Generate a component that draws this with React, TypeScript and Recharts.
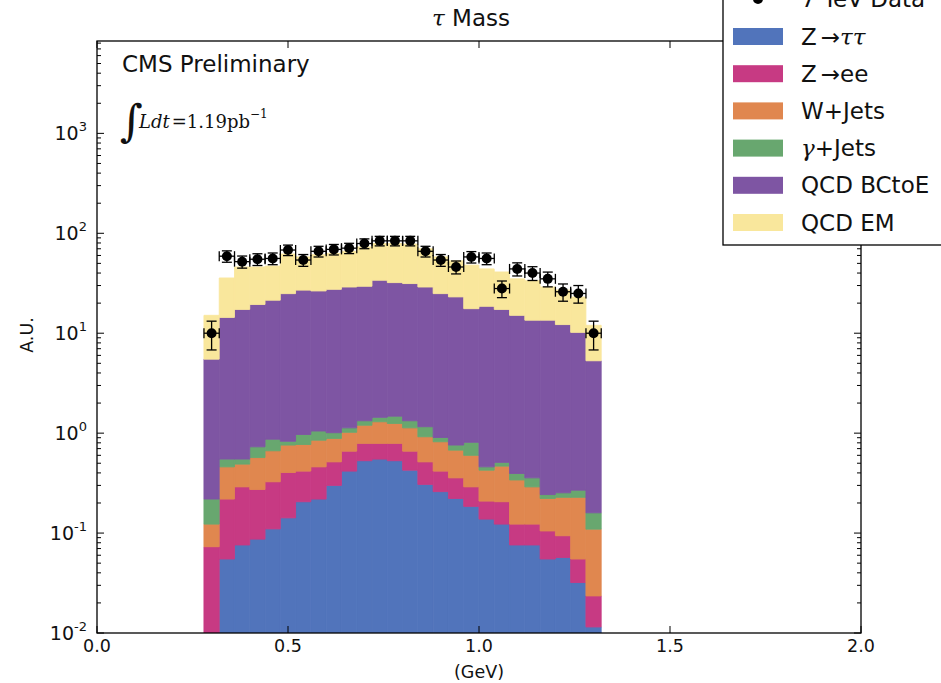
import { Bar, ComposedChart, ErrorBar, Scatter, XAxis, YAxis } from "recharts"

// bin centres (GeV), 0.04 wide bins from 0.28 to 1.32
const binCenters = [
  0.3, 0.34, 0.38, 0.42, 0.46, 0.5, 0.54, 0.58, 0.62, 0.66, 0.7, 0.74, 0.78,
  0.82, 0.86, 0.9, 0.94, 0.98, 1.02, 1.06, 1.1, 1.14, 1.18, 1.22, 1.26, 1.3,
]

// per-process contributions, stacked bottom to top
const zTauTau = [
  0, 0.055, 0.076, 0.087, 0.11, 0.142, 0.206, 0.219, 0.3, 0.417, 0.53, 0.55, 0.53,
  0.426, 0.307, 0.26, 0.222, 0.185, 0.138, 0.123, 0.076, 0.076, 0.055, 0.057, 0.032, 0.0115,
]
const zEE = [
  0.073, 0.164, 0.214, 0.186, 0.216, 0.262, 0.211, 0.241, 0.216, 0.243, 0.26, 0.24, 0.26,
  0.234, 0.209, 0.157, 0.135, 0.105, 0.071, 0.083, 0.047, 0.047, 0.05, 0.037, 0.023, 0.012,
]
const wJets = [
  0.05, 0.241, 0.2, 0.297, 0.34, 0.356, 0.353, 0.39, 0.369, 0.36, 0.41, 0.51, 0.46,
  0.47, 0.404, 0.403, 0.319, 0.31, 0.217, 0.262, 0.217, 0.167, 0.117, 0.134, 0.173, 0.086,
]
const gammaJets = [
  0.096, 0.09, 0.06, 0.16, 0.204, 0.07, 0.2, 0.2, 0.125, 0.11, 0.13, 0.14, 0.23,
  0.2, 0.24, 0.085, 0.084, 0.21, 0.034, 0.042, 0.055, 0.067, 0.021, 0.025, 0.041, 0.05,
]
const qcdBCtoE = [
  5.28, 13.85, 16.75, 18.67, 20.53, 24.07, 26.03, 25.45, 26.49, 27.87, 28.17, 32.46, 30.62,
  30.07, 27.84, 24.0, 22.34, 16.79, 18.14, 16.79, 14.7, 13.14, 13.26, 11.95, 9.93, 5.14,
]
const qcdEM = [
  9.6, 21.3, 28.7, 26.6, 25.6, 37.1, 31, 34.5, 35.5, 37, 43.5, 45.1, 46.9,
  46.6, 41, 33.1, 29.9, 30.4, 25.4, 23.7, 19.9, 20, 15.5, 14.8, 12.8, 6.7,
]

// 7 TeV data points and their errors
const dataCounts = [
  10, 59, 52, 55, 56, 68, 54, 66, 69, 71, 79, 84, 84, 84, 66, 54, 46, 58, 56, 28, 44, 40, 35, 26, 25, 10,
]
const dataErrors = [
  3.2, 7.7, 7.2, 7.4, 7.5, 8.2, 7.3, 8.1, 8.3, 8.4, 8.9, 9.2, 9.2, 9.2, 8.1, 7.3, 6.8, 7.6, 7.5,
  5.3, 6.6, 6.3, 5.9, 5.1, 5.0, 3.2,
]

const xTicks = [0, 0.5, 1.0, 1.5, 2.0]
const xTickLabels = ["0.0", "0.5", "1.0", "1.5", "2.0"]
const yMajor = [0.01, 0.1, 1, 10, 100, 1000]
const Y_MAX = 8400

const COLORS = {
  ztt: "#5174bb",
  zee: "#c73a83",
  wjets: "#e0874f",
  gjets: "#68a76f",
  bctoe: "#7e55a3",
  em: "#f9e79c",
}

const BIN_HALF = 0.02

const PLOT_LEFT = 97
const PLOT_RIGHT = 861
const PLOT_TOP = 41
const PLOT_BOTTOM = 633

const SANS = "DejaVu Sans"
const SERIF = "DejaVu Serif"

const yTicks: number[] = []
yMajor.forEach((d) => {
  yTicks.push(d)
  for (let k = 2; k <= 9; k++) {
    if (k * d < Y_MAX) yTicks.push(Number((k * d).toPrecision(3)))
  }
})

const rows = binCenters.map((x, i) => ({
  x,
  ztt: zTauTau[i],
  zee: zEE[i],
  wjets: wJets[i],
  gjets: gammaJets[i],
  bctoe: qcdBCtoE[i],
  em: qcdEM[i],
  data: dataCounts[i],
  dataErr: dataErrors[i],
  xErr: BIN_HALF,
}))

const series = [
  { key: "ztt", color: COLORS.ztt },
  { key: "zee", color: COLORS.zee },
  { key: "wjets", color: COLORS.wjets },
  { key: "gjets", color: COLORS.gjets },
  { key: "bctoe", color: COLORS.bctoe },
  { key: "em", color: COLORS.em },
]

function YTick(props: any) {
  const v = props.payload.value
  const y = props.payload.coordinate ?? props.y
  const e = Math.log10(v)
  const major = Math.abs(e - Math.round(e)) < 1e-6
  const len = major ? 7 : 4
  return (
    <g>
      <line x1={PLOT_LEFT} x2={PLOT_LEFT + len} y1={y} y2={y} stroke="#000" strokeWidth={1} />
      <line x1={PLOT_RIGHT - len} x2={PLOT_RIGHT} y1={y} y2={y} stroke="#000" strokeWidth={1} />
      {major && (
        <text
          x={PLOT_LEFT - 10}
          y={y + 7}
          textAnchor="end"
          fontFamily={SANS}
          fontSize={19}
          fill="#111"
        >
          10
          <tspan dy={-9} fontSize={13}>
            {Math.round(e)}
          </tspan>
        </text>
      )}
    </g>
  )
}

function XTick(props: any) {
  const v = props.payload.value
  const x = props.payload.coordinate ?? props.x
  const idx = xTicks.indexOf(v)
  return (
    <g>
      <line x1={x} x2={x} y1={PLOT_BOTTOM} y2={PLOT_BOTTOM - 7} stroke="#000" />
      <line x1={x} x2={x} y1={PLOT_TOP} y2={PLOT_TOP + 7} stroke="#000" />
      <text x={x} y={PLOT_BOTTOM + 19} textAnchor="middle" fontFamily={SANS} fontSize={17.5} fill="#111">
        {idx >= 0 ? xTickLabels[idx] : v}
      </text>
    </g>
  )
}

function DataDot(props: any) {
  const { cx, cy } = props
  if (cx == null || cy == null) return <g />
  return <circle cx={cx} cy={cy} r={5} fill="#000" />
}

const legendRows = [36.5, 73.7, 110.9, 148.1, 185.3, 222.5]

export default function App() {
  return (
    <div
      style={{
        position: "absolute",
        left: 0,
        top: 0,
        width: 941,
        height: 683,
        overflow: "hidden",
        background: "#fff",
      }}
    >
      <ComposedChart
        width={941}
        height={683}
        data={rows}
        margin={{ top: PLOT_TOP, right: 941 - PLOT_RIGHT, bottom: 20, left: 37 }}
      >
        <XAxis
          type="number"
          dataKey="x"
          domain={[0, 2]}
          ticks={xTicks}
          interval={0}
          tick={XTick}
          tickLine={false}
          axisLine={false}
          height={30}
          allowDataOverflow
        />
        <YAxis
          type="number"
          scale="log"
          domain={[0.01, Y_MAX]}
          ticks={yTicks}
          interval={0}
          tick={YTick}
          tickLine={false}
          axisLine={false}
          width={60}
          allowDataOverflow
        />
        {series.map((s) => (
          <Bar
            key={s.key}
            dataKey={s.key}
            stackId="mc"
            fill={s.color}
            stroke={s.color}
            strokeWidth={0.9}
            barSize={15.2}
            isAnimationActive={false}
          />
        ))}
        <Scatter dataKey="data" fill="#000" shape={DataDot} isAnimationActive={false}>
          <ErrorBar dataKey="dataErr" direction="y" width={5} stroke="#000" strokeWidth={1.3} />
          <ErrorBar dataKey="xErr" direction="x" width={5} stroke="#000" strokeWidth={1.3} />
        </Scatter>
      </ComposedChart>

      <svg
        width={941}
        height={683}
        style={{ position: "absolute", left: 0, top: 0, pointerEvents: "none" }}
      >
        <rect
          x={PLOT_LEFT}
          y={PLOT_TOP}
          width={PLOT_RIGHT - PLOT_LEFT}
          height={PLOT_BOTTOM - PLOT_TOP}
          fill="none"
          stroke="#000"
          strokeWidth={1.3}
        />

        {/* title */}
        <text x={432} y={26} fontFamily={SANS} fontSize={23} fill="#111">
          <tspan fontFamily={SERIF} fontStyle="italic">τ</tspan>
          <tspan> Mass</tspan>
        </text>

        {/* annotations */}
        <text x={122} y={72} fontFamily={SANS} fontSize={23} fill="#111">
          CMS Preliminary
        </text>
        <text x={120} y={136} fontFamily={SERIF} fontSize={44} fill="#111">
          ∫
        </text>
        <text x={139} y={128} fontFamily={SERIF} fontSize={18} fill="#111">
          <tspan fontStyle="italic">Ldt</tspan>
          <tspan dx={2}>=1.19pb</tspan>
          <tspan dy={-10} fontSize={12}>−1</tspan>
        </text>

        {/* axis labels */}
        <text x={479} y={678} textAnchor="middle" fontFamily={SANS} fontSize={17.5} fill="#111">
          (GeV)
        </text>
        <text
          x={33}
          y={335}
          textAnchor="middle"
          fontFamily={SANS}
          fontSize={17.5}
          fill="#111"
          transform="rotate(-90 33 335)"
        >
          A.U.
        </text>

        {/* legend */}
        <rect x={723} y={-30} width={260} height={275} fill="#fff" stroke="#000" strokeWidth={1.3} />
        <circle cx={758} cy={-1} r={5} fill="#000" />
        <text x={801} y={7} fontFamily={SANS} fontSize={23} fill="#111">
          7 TeV Data
        </text>
        {[
          { c: COLORS.ztt, label: "ztt" },
          { c: COLORS.zee, label: "zee" },
          { c: COLORS.wjets, label: "W+Jets" },
          { c: COLORS.gjets, label: "gjets" },
          { c: COLORS.bctoe, label: "QCD BCtoE" },
          { c: COLORS.em, label: "QCD EM" },
        ].map((r, i) => {
          const cy = legendRows[i]
          let content: any = r.label
          if (r.label === "ztt")
            content = (
              <>
                Z<tspan dx={4}>→</tspan>
                <tspan fontFamily={SERIF} fontStyle="italic">ττ</tspan>
              </>
            )
          if (r.label === "zee")
            content = (
              <>
                Z<tspan dx={4}>→</tspan>ee
              </>
            )
          if (r.label === "gjets")
            content = (
              <>
                <tspan fontFamily={SERIF} fontStyle="italic">γ</tspan>+Jets
              </>
            )
          return (
            <g key={i}>
              <rect x={733} y={cy - 8.5} width={50} height={17} fill={r.c} />
              <text x={801} y={cy + 8} fontFamily={SANS} fontSize={23} fill="#111">
                {content}
              </text>
            </g>
          )
        })}
      </svg>
    </div>
  )
}
